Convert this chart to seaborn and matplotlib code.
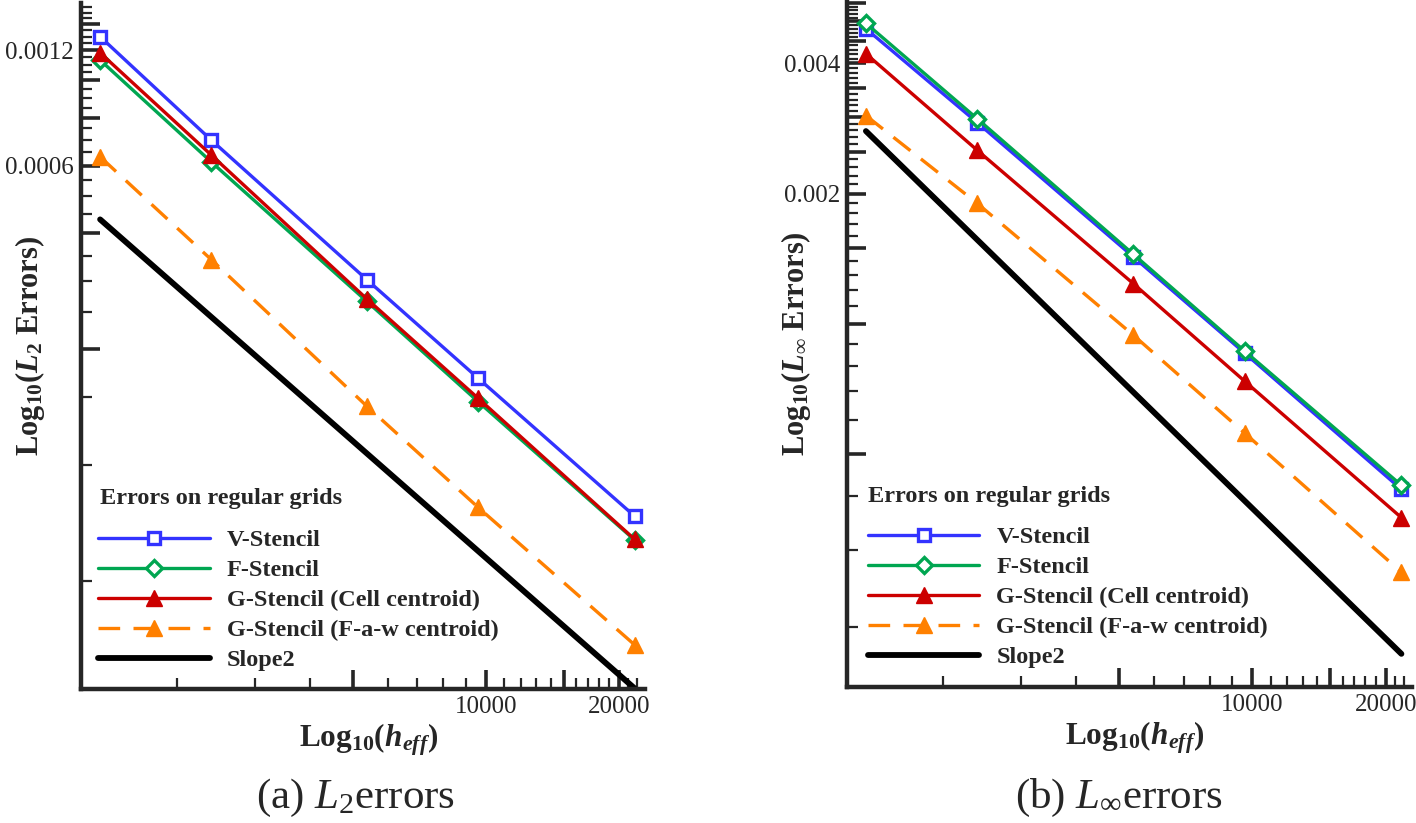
import numpy as np
import seaborn as sns
import matplotlib.pyplot as plt
from matplotlib.ticker import FixedLocator, FixedFormatter, NullFormatter

# Effective resolution (same for both panels)
h_eff = [1340, 2390, 5380, 9600, 21700]
slope_x = [1340, 21700]

# L2 errors
l2_v = [1.30e-3, 7.00e-4, 3.03e-4, 1.68e-4, 7.35e-5]
l2_f = [1.13e-3, 6.14e-4, 2.66e-4, 1.46e-4, 6.37e-5]
l2_g_cell = [1.18e-3, 6.40e-4, 2.70e-4, 1.49e-4, 6.40e-5]
l2_g_faw = [6.33e-4, 3.42e-4, 1.42e-4, 7.75e-5, 3.40e-5]
l2_slope = [4.35e-4, 2.62e-5]

# L-infinity errors
linf_v = [4.81e-3, 2.92e-3, 1.43e-3, 8.57e-4, 4.15e-4]
linf_f = [4.95e-3, 2.98e-3, 1.45e-3, 8.66e-4, 4.24e-4]
linf_g_cell = [4.21e-3, 2.52e-3, 1.24e-3, 7.38e-4, 3.57e-4]
linf_g_faw = [3.03e-3, 1.90e-3, 9.43e-4, 5.60e-4, 2.67e-4]
linf_slope = [2.79e-3, 1.73e-4]

labels = ["V-Stencil", "F-Stencil", "G-Stencil (Cell centroid)",
          "G-Stencil (F-a-w centroid)", "Slope2"]
colors = ["#3333ff", "#00a651", "#cc0000", "#ff8000", "black"]

sns.set_style("ticks")
plt.rcParams["font.family"] = ["Liberation Serif", "DejaVu Serif"]
plt.rcParams["mathtext.fontset"] = "custom"
plt.rcParams["mathtext.rm"] = "Liberation Serif"
plt.rcParams["mathtext.it"] = "Liberation Serif:italic"
plt.rcParams["mathtext.bf"] = "Liberation Serif:bold"
plt.rcParams["mathtext.bfit"] = "Liberation Serif:bold:italic"

fig = plt.figure(figsize=(14.16, 8.23), dpi=100)
ax1 = fig.add_axes([0.0572, 0.1628, 0.3983, 0.8335])
ax2 = fig.add_axes([0.598, 0.1652, 0.399, 0.8347])


def draw_panel(ax, v, f, gc, gf, slope, leg_xy, title_xy):
    ax.set_xscale("log")
    ax.set_yscale("log")
    sns.lineplot(x=h_eff, y=v, ax=ax, color=colors[0], lw=2.4, marker="s", ms=9,
                 mfc="white", mec=colors[0], mew=2.4, label=labels[0])
    sns.lineplot(x=h_eff, y=f, ax=ax, color=colors[1], lw=2.4, marker="D", ms=8.5,
                 mfc="white", mec=colors[1], mew=2.4, label=labels[1])
    sns.lineplot(x=h_eff, y=gc, ax=ax, color=colors[2], lw=2.4, marker="^", ms=12,
                 mfc=colors[2], mec=colors[2], mew=1, label=labels[2])
    sns.lineplot(x=h_eff, y=gf, ax=ax, color=colors[3], lw=2.4, marker="^", ms=12,
                 mfc=colors[3], mec=colors[3], mew=1, linestyle=(0, (6.5, 4)),
                 label=labels[3])
    sns.lineplot(x=slope_x, y=slope, ax=ax, color=colors[4], lw=4.2,
                 solid_capstyle="round", label=labels[4])

    ax.set_xlim(1213, 22900)
    ax.xaxis.set_major_locator(FixedLocator([5000, 10000, 15000, 20000]))
    ax.xaxis.set_major_formatter(FixedFormatter(["", "10000", "", "20000"]))
    minor_x = [k * 1000 for k in range(2, 23) if k % 5 != 0]
    ax.xaxis.set_minor_locator(FixedLocator(minor_x))
    ax.xaxis.set_minor_formatter(NullFormatter())

    for s in ["top", "right"]:
        ax.spines[s].set_visible(False)
    for s in ["left", "bottom"]:
        ax.spines[s].set_linewidth(3.2)
    ax.tick_params(which="major", direction="in", length=14, width=2.6,
                   labelsize=18, pad=5)
    ax.tick_params(which="minor", direction="in", length=8, width=1.6)

    ax.legend(loc="upper left", bbox_to_anchor=leg_xy, frameon=False,
              prop={"weight": "bold", "size": 17.5},
              handlelength=4.6, handletextpad=0.7, labelspacing=0.33,
              borderpad=0, borderaxespad=0)
    ax.text(title_xy[0], title_xy[1], "Errors on regular grids", transform=ax.transAxes,
            fontsize=17.5, fontweight="bold", ha="left", va="center")


draw_panel(ax1, l2_v, l2_f, l2_g_cell, l2_g_faw, l2_slope, (0.03, 0.233), (0.034, 0.278))
draw_panel(ax2, linf_v, linf_f, linf_g_cell, linf_g_faw, linf_slope, (0.037, 0.234), (0.037, 0.277))

# Left y axis (Tecplot style ticks)
ax1.set_ylim(2.61e-5, 1.59e-3)
maj1 = [k * 0.0002 for k in range(1, 8)]
ax1.yaxis.set_major_locator(FixedLocator(maj1))
ax1.yaxis.set_major_formatter(FixedFormatter(["", "", "0.0006", "", "", "0.0012", ""]))
ax1.yaxis.set_minor_locator(FixedLocator([k * 0.00005 for k in range(1, 32) if k % 4 != 0]))
ax1.yaxis.set_minor_formatter(NullFormatter())

# Right y axis
ax2.set_ylim(1.45e-4, 5.6e-3)
maj2 = [k * 0.0005 for k in range(1, 12)]
lab2 = ["0.002" if k == 4 else "0.004" if k == 8 else "" for k in range(1, 12)]
ax2.yaxis.set_major_locator(FixedLocator(maj2))
ax2.yaxis.set_major_formatter(FixedFormatter(lab2))
ax2.yaxis.set_minor_locator(FixedLocator([k * 0.0001 for k in range(2, 56) if k % 5 != 0]))
ax2.yaxis.set_minor_formatter(NullFormatter())

# Axis labels
xl = r"Log$_{\mathbf{10}}$($\mathbfit{h}_{\mathbfit{eff}}$)"
ax1.set_xlabel(xl, fontsize=22.5, fontweight="bold")
ax2.set_xlabel(xl, fontsize=22.5, fontweight="bold")
ax1.set_ylabel(r"Log$_{\mathbf{10}}$($\mathbfit{L}_{\mathbf{2}}$ Errors)",
               fontsize=22, fontweight="bold")
ax2.set_ylabel(r"Log$_{\mathbf{10}}$($\mathbfit{L}_{\mathbf{\infty}}$ Errors)",
               fontsize=22, fontweight="bold")
for ax in (ax1, ax2):
    ax.xaxis.set_label_coords(0.509, -0.074)
    ax.xaxis.label.set_va("center")
    ax.yaxis.set_label_coords(-0.09, 0.5)
    ax.yaxis.label.set_va("center")

# Captions
fig.text(0.251, 0.03, r"(a) $\mathit{L}_2$errors", fontsize=31, ha="center", va="center")
fig.text(0.79, 0.03, r"(b) $\mathit{L}_\infty$errors", fontsize=31, ha="center", va="center")

fig.savefig("out.png", dpi=100)
